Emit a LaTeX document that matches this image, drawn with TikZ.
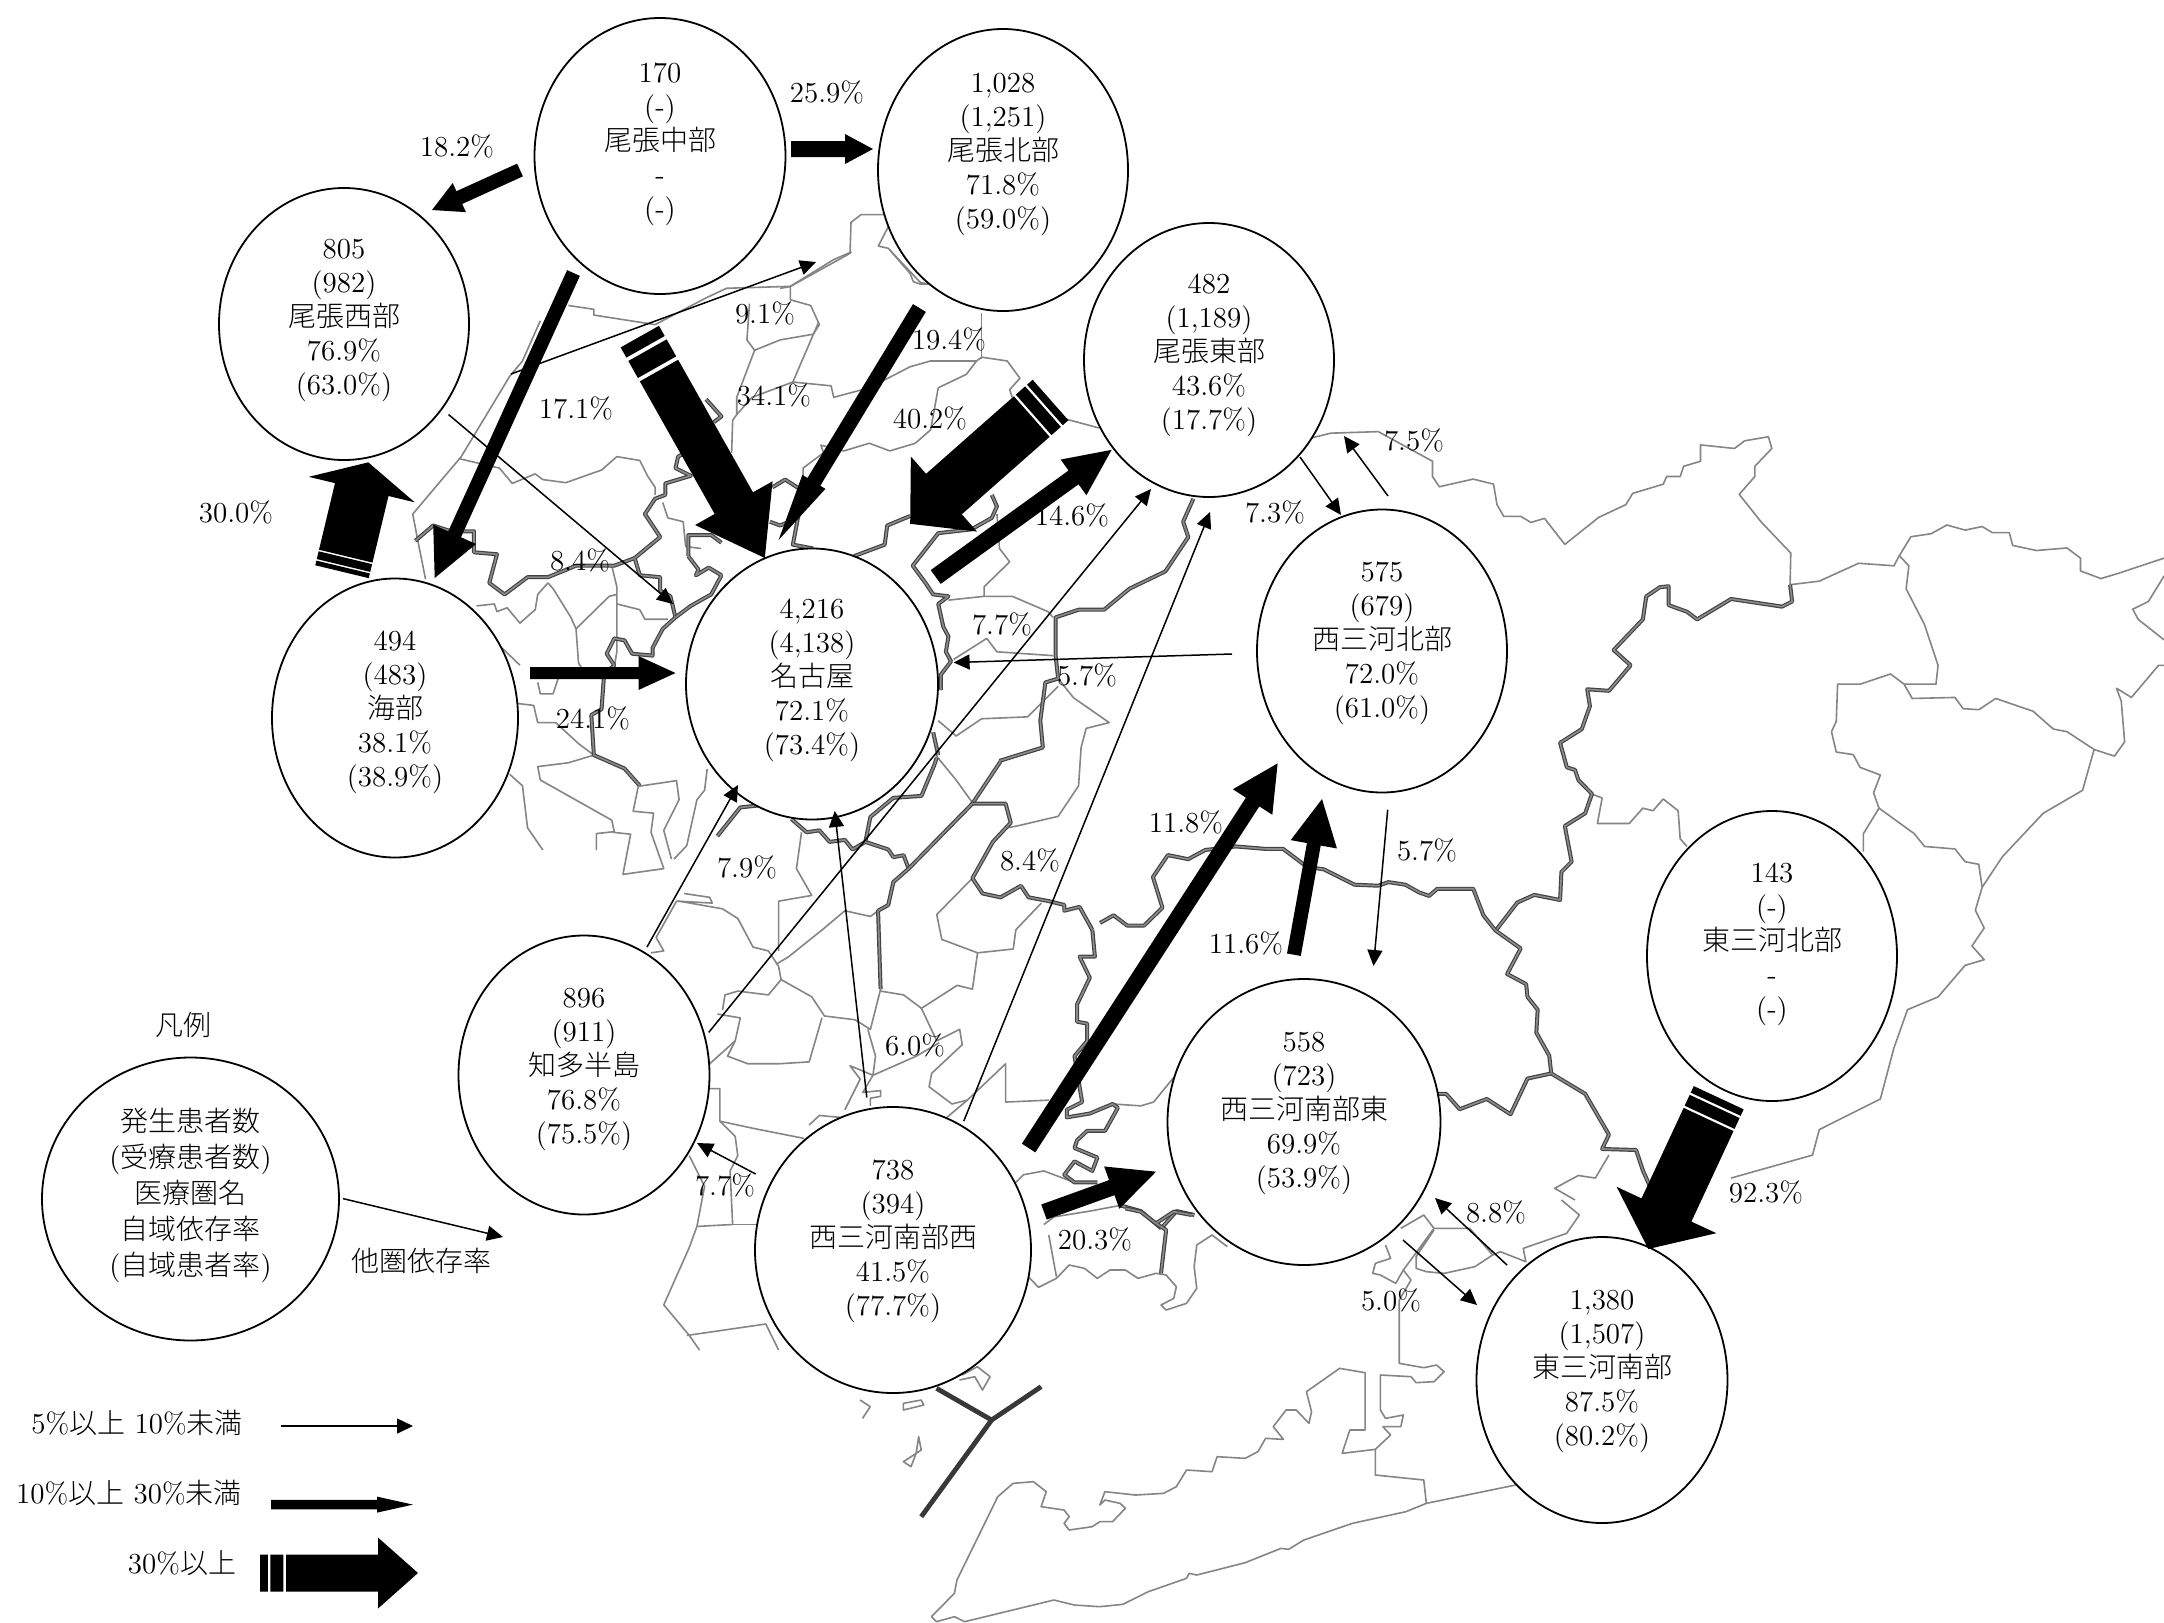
\documentclass[tikz,border=0pt]{standalone}
\usepackage{fontspec}
\usetikzlibrary{arrows.meta,shapes.geometric,calc}
\newfontfamily\jpfam[UprightFont=* Light]{Noto Sans CJK JP}
\newcommand\jp[1]{{\jpfam\fontsize{14}{17}\selectfont #1}}
\newcommand\ltext[2][2.5pt]{\raisebox{#1}[0pt][0pt]{\fontsize{14.5}{17}\selectfont\begin{tabular}[c]{@{}c@{}}#2\end{tabular}}}
\newcommand\measure[2]{%
  \pgfmathanglebetweenpoints{\pgfpointanchor{#1}{center}}{\pgfpointanchor{#2}{center}}\let\fa\pgfmathresult
  \pgfpointdiff{\pgfpointanchor{#1}{center}}{\pgfpointanchor{#2}{center}}\pgfgetlastxy\dxx\dyy
  \pgfmathsetmacro\fl{veclen(\dxx,\dyy)}}
% start, end, shaft width, head width, head length (all in image pixels)
\newcommand\flowarrow[5]{%
  \measure{#1}{#2}%
  \pgfmathsetmacro\hw{#3/4}\pgfmathsetmacro\hW{#4/4}\pgfmathsetmacro\bx{\fl-#5/2}%
  \fill[black,shift={(#1)},rotate=\fa] (0pt,-\hw pt) -- (\bx pt,-\hw pt) -- (\bx pt,-\hW pt) -- (\fl pt,0pt) -- (\bx pt,\hW pt) -- (\bx pt,\hw pt) -- (0pt,\hw pt) -- cycle;}
% same with two bands at the tail; #6 = length of the banded part
\newcommand\bandarrow[6]{%
  \measure{#1}{#2}%
  \pgfmathsetmacro\hw{#3/4}\pgfmathsetmacro\hW{#4/4}\pgfmathsetmacro\bx{\fl-#5/2}%
  \pgfmathsetmacro\ba{#6*.15}\pgfmathsetmacro\bb{#6*.2}\pgfmathsetmacro\bc{#6*.45}\pgfmathsetmacro\bd{#6*.5}%
  \fill[black,shift={(#1)},rotate=\fa] (\bd pt,-\hw pt) -- (\bx pt,-\hw pt) -- (\bx pt,-\hW pt) -- (\fl pt,0pt) -- (\bx pt,\hW pt) -- (\bx pt,\hw pt) -- (\bd pt,\hw pt) -- cycle
    (0pt,-\hw pt) rectangle (\ba pt,\hw pt)
    (\bb pt,-\hw pt) rectangle (\bc pt,\hw pt);}
\tikzset{
  thinmap/.style={draw=black!48,line width=.8pt,line join=round},
  thickmap/.style={draw=black!74,double=black!45,double distance=.8pt,line width=.6pt,line join=round},
  zoneA/.style={shift={(400,250)},x=.2551pt,y=-.19133pt},
  zoneB/.style={shift={(1100,400)},x=.33928pt,y=-.2551pt},
  zoneC/.style={shift={(600,750)},x=.2551pt,y=-.19133pt},
  zoneD/.style={shift={(860,1200)},x=.2551pt,y=-.16667pt},
  zoneE/.style={shift={(780,190)},x=.16667pt,y=-.16667pt},
  area/.style={ellipse,draw=black,fill=white,line width=.9pt,inner sep=0pt},
  pct/.style={inner sep=0pt,font=\fontsize{14.5}{17}\selectfont},
  plain/.style={inner sep=0pt,font=\fontsize{14.5}{17}\selectfont},
  thinflow/.style={draw=black,line width=.75pt,-{Triangle[length=8pt,width=7.5pt]}},
}
\begin{document}
\begin{tikzpicture}[x=.5pt,y=-.5pt]
\useasboundingbox (0,0) rectangle (2164,1623);
\fill[white] (0,0) rectangle (2164,1623);
% ---------- map ----------
\begin{scope}[zoneE]
\draw[thinmap] (0,295)--(30,290)--(210,190)--(213,97)--(243,74)--(320,74);
\draw[thinmap] (325,110)--(295,168)--(325,175)--(390,250)--(400,275)--(420,282)--(450,282);
\end{scope}
\begin{scope}[zoneA]
\draw[thinmap] (885,5)--(850,25)--(765,95)--(640,100)--(600,125)--(500,195)--(380,170)--(380,155)--(330,145);
\draw[thinmap] (765,95)--(765,130)--(805,145)--(822,195)--(810,220)--(745,235)--(695,262)--(680,235)--(685,140);
\draw[thinmap] (275,185)--(240,290)--(215,330)--(120,540)--(25,690)--(35,760)--(50,860);
\draw[thinmap] (115,545)--(195,570)--(220,610)--(265,585)--(280,600)--(325,608)--(395,575)--(425,540)--(470,550)--(485,590)--(500,620)--(500,640);
\draw[thinmap] (695,262)--(660,385)--(660,430)--(652,445)--(650,530);
\draw[thinmap] (660,430)--(690,385)--(770,345)--(845,355)--(850,385)--(920,360)--(1000,305)--(1040,290)--(1130,290)--(1140,280)--(1190,290)--(1215,335)--(1195,365)--(1200,385);
\draw[thinmap] (1130,290)--(1110,325)--(1055,360)--(1040,470)--(1010,505)--(960,525)--(920,505)--(870,525)--(825,510)--(830,530)--(790,570)--(790,600);
\draw[thinmap] (770,345)--(820,190);
\draw[thinmap] (1140,165)--(1140,285);
\draw[thinmap] (960,0)--(1020,85)--(1040,90);
\draw[thinmap] (1300,440)--(1370,465);
\draw[thinmap] (1170,690)--(1175,780)--(1195,815)--(1145,880)--(1145,905)--(1075,915);
\draw[thinmap] (1145,905)--(1200,905)--(1270,945)--(1280,960);
\draw[thinmap] (1085,1070)--(1150,1015)--(1170,1050)--(1280,1060);
\draw[thinmap] (1290,1120)--(1320,1170)--(1390,1235)--(1345,1250)--(1335,1300)--(1330,1400)--(1290,1480)--(1210,1505)--(1190,1510);
\draw[thinmap] (1055,1230)--(1090,1270)--(1140,1225)--(1230,1220)--(1290,1140);
\draw[thinmap] (1050,1320)--(1090,1385)--(1125,1450);
\draw[thinmap] (415,825)--(425,880)--(425,925)--(425,1050)--(420,1090);
\draw[thinmap] (290,870)--(270,900)--(265,940)--(235,975)--(210,935)--(190,945)--(185,925)--(150,930);
\draw[thinmap] (290,870)--(300,885)--(335,960)--(345,990)--(350,1080)--(355,1090);
\draw[thinmap] (345,990)--(410,905)--(425,900);
\draw[thinmap] (425,925)--(470,940)--(480,965)--(525,965);
\draw[thinmap] (200,1040)--(235,1085);
\draw[thinmap] (230,1185)--(262,1190)--(270,1235)--(305,1235)--(350,1290)--(380,1320)--(330,1340)--(270,1350)--(275,1385)--(415,1490)--(420,1520)--(385,1525)--(385,1568);
\draw[thinmap] (270,1130)--(275,1160)--(300,1160)--(310,1120);
\draw[thinmap] (215,1370)--(240,1400)--(250,1510)--(280,1568);
\draw[thinmap] (515,660)--(525,700)--(555,710)--(560,775)--(590,780);
\draw[thickmap] (30,760)--(65,720)--(100,735)--(145,735)--(145,790)--(190,795)--(175,870)--(205,900)--(250,855)--(290,855)--(345,825)--(420,825)--(460,805)--(470,850)--(510,855)--(510,890)--(530,905)--(540,960)--(515,990)--(495,1040)--(495,1060)--(455,1055)--(440,1020)--(420,1015)--(405,1055)--(420,1085)--(400,1110)--(395,1200)--(375,1215)--(380,1320)--(440,1355)--(470,1400);
\draw[thickmap] (460,805)--(510,750)--(480,690)--(500,650)--(520,640)--(520,610)--(570,590)--(540,570)--(545,540)--(600,500);
\draw[thickmap] (600,390)--(630,435)--(615,450);
\draw[thickmap] (565,800)--(565,745)--(610,745)--(630,765);
\draw[thickmap] (565,800)--(585,835)--(580,850)--(605,830)--(630,850)--(610,900)--(570,930)--(540,960);
\draw[thickmap] (730,620)--(755,600)--(790,630)--(780,700)--(770,770)--(810,780);
\draw[thickmap] (725,710)--(745,720)--(780,700);
\draw[thickmap] (890,800)--(950,770)--(955,720)--(1000,695);
\draw[thickmap] (1160,640)--(1170,670)--(1160,700)--(1120,730)--(1055,740)--(1005,825)--(1030,870)--(1045,900)--(1075,905)--(1055,925)--(1065,985)--(1075,1010)--(1070,1050)--(1080,1075)--(1060,1110)--(1060,1150);
\draw[thickmap] (1555,650)--(1535,710)--(1545,750)--(1500,840)--(1430,885)--(1380,940)--(1330,940)--(1285,960)--(1285,1060)--(1290,1120)--(1265,1130)--(1255,1230)--(1260,1300)--(1175,1335);
\draw[thickmap] (1045,1260)--(1055,1320);
\end{scope}
\begin{scope}[zoneB]
\draw[thinmap] (310,75)--(340,65)--(410,62)--(490,120)--(490,150)--(500,170)--(550,155)--(580,165)--(585,205)--(595,228)--(620,228)--(635,240)--(655,232)--(685,283)--(735,230)--(775,205)--(785,183)--(830,165)--(835,150)--(855,150)--(860,130)--(885,120)--(885,88)--(935,95)--(950,80)--(985,72)--(990,95)--(965,130)--(965,150)--(942,185)--(975,240)--(1018,300)--(1017,362)--(1060,355)--(1118,320)--(1170,325)--(1178,305)--(1195,268)--(1225,262)--(1248,245)--(1275,255)--(1300,248)--(1315,260)--(1340,260)--(1345,285)--(1380,295)--(1425,290)--(1445,310)--(1445,335)--(1475,350)--(1500,340)--(1568,310);
\draw[thinmap] (1178,305)--(1192,325)--(1188,370)--(1215,440)--(1235,520)--(1232,557)--(1185,557)--(1165,537)--(1120,557)--(1087,557)--(1085,630)--(1078,650)--(1085,690)--(1110,695)--(1120,720)--(1150,735)--(1140,770)--(1148,800)--(1200,850)--(1215,875)--(1260,880)--(1275,905)--(1295,910)--(1300,955);
\draw[thinmap] (1185,557)--(1197,585)--(1260,583)--(1272,605)--(1295,607)--(1320,585)--(1375,610)--(1405,645)--(1425,650)--(1465,685)--(1448,765)--(1390,810)--(1330,895)--(1300,955)--(1290,1000)--(1303,1035)--(1285,1070)--(1303,1097)--(1275,1108)--(1235,1170)--(1190,1195)--(1170,1270)--(1150,1370)--(1060,1430)--(1050,1480)--(930,1525);
\draw[thinmap] (1465,685)--(1495,698)--(1510,670)--(1505,590)--(1498,565)--(1520,583)--(1560,520)--(1568,520);
\draw[thinmap] (1568,345)--(1545,395)--(1522,410)--(1530,430)--(1568,470);
\draw[thinmap] (1148,800)--(1125,850)--(1125,885);
\draw[thinmap] (720,770)--(740,780)--(733,830)--(780,830)--(800,800)--(815,805)--(830,782)--(852,805)--(855,860)--(865,875);
\draw[thinmap] (750,1480)--(730,1525)--(705,1520)--(670,1545)--(700,1568);
\draw[thickmap] (1017,362)--(1020,395)--(1005,405)--(930,390)--(880,430)--(865,415)--(838,402)--(838,365)--(825,367)--(805,385)--(800,430)--(757,490)--(782,520)--(750,570)--(718,567)--(722,600)--(710,645)--(678,672)--(688,720)--(700,725)--(705,745)--(725,772)--(715,810)--(685,835)--(695,905)--(680,925)--(678,980)--(640,970)--(615,985)--(583,1040)--(620,1075)--(600,1125)--(628,1145)--(630,1170)--(645,1195)--(643,1240)--(662,1285)--(665,1320)--(715,1360)--(750,1440)--(740,1468)--(790,1470)--(800,1510)--(810,1540);
\draw[thickmap] (583,1040)--(565,1010)--(550,958)--(497,958)--(485,972)--(470,965)--(450,950)--(425,945)--(410,952)--(375,950)--(330,920)--(305,915)--(270,880)--(245,880)--(200,875)--(155,882)--(130,900)--(100,892)--(78,935)--(92,995)--(65,1030)--(40,1030)--(20,1010)--(0,1025);
\draw[thickmap] (665,1320)--(630,1330)--(605,1400)--(570,1370)--(530,1390)--(510,1360)--(497,1360);
\end{scope}
\begin{scope}[zoneC]
\draw[thinmap] (75,95)--(150,80)--(155,130)--(125,210)--(140,285);
\draw[thinmap] (25,215)--(60,220)--(45,325)--(125,310)--(100,215)--(105,165)--(65,160)--(75,95);
\draw[thinmap] (210,50)--(205,105)--(190,130)--(170,250)--(145,285);
\draw[thinmap] (165,375)--(215,385)--(220,400)--(150,395)--(110,490)--(125,525)--(100,530);
\draw[thinmap] (155,395)--(240,415)--(270,440)--(300,515)--(330,525)--(350,565)--(355,600)--(330,640)--(270,630)--(245,640)--(240,680);
\draw[thinmap] (230,690)--(275,700)--(265,760)--(215,820);
\draw[thinmap] (355,600)--(415,645)--(440,695)--(500,705)--(530,730)--(550,625);
\draw[thinmap] (345,560)--(370,540)--(440,465)--(480,420)--(530,435)--(545,420);
\draw[thinmap] (350,525)--(350,395)--(415,380)--(385,310)--(395,215);
\draw[thinmap] (435,700)--(410,815)--(350,820)--(290,820)--(250,800)--(265,760);
\draw[thinmap] (525,730)--(540,800)--(535,850)--(620,800)--(665,765);
\draw[thinmap] (630,675)--(660,760)--(705,730)--(710,770)--(650,845)--(645,880)--(690,925)--(720,915);
\draw[thinmap] (550,630)--(595,640)--(630,675)--(700,615)--(730,625)--(740,530)--(810,520)--(815,470)--(865,400);
\draw[thinmap] (740,530)--(670,495)--(660,430)--(730,335);
\draw[thinmap] (535,850)--(515,895)--(550,890)--(550,905)--(530,910)--(530,930);
\draw[thinmap] (535,850)--(490,825)--(510,860)--(480,940);
\draw[thinmap] (410,980)--(430,955)--(470,960);
\draw[thinmap] (680,960)--(720,915)--(795,820)--(795,920)--(880,915);
\draw[thinmap] (1005,925)--(1060,930)--(1085,920)--(1125,855);
\draw[thinmap] (215,885)--(235,885)--(235,970)--(265,1010)--(270,1060)--(255,1100)--(260,1240)--(190,1245)--(175,1300)--(125,1450)--(175,1530)--(195,1568);
\draw[thinmap] (235,970)--(305,990)--(400,1015);
\draw[thinmap] (175,1060)--(205,1140)--(190,1245);
\draw[thinmap] (260,1240)--(310,1240);
\draw[thinmap] (170,1530)--(325,1500)--(350,1568);
\draw[thinmap] (815,1130)--(830,1110)--(870,1100)--(900,1115)--(930,1130);
\draw[thinmap] (870,1240)--(890,1220)--(960,1205)--(1020,1190);
\draw[thickmap] (230,225)--(275,150)--(310,145);
\draw[thickmap] (375,180)--(405,215)--(430,210)--(450,240)--(480,235)--(495,260)--(520,240)--(565,260)--(575,280)--(595,275)--(605,310);
\draw[thickmap] (660,20)--(655,40)--(630,120)--(575,125)--(530,175)--(520,240);
\draw[thickmap] (785,30)--(730,140)--(605,310)--(575,345)--(565,405)--(545,420)--(550,625);
\draw[thickmap] (730,140)--(795,140)--(805,190)--(770,240)--(730,335)--(750,375)--(785,385)--(825,355)--(840,385)--(880,395)--(910,405)--(910,420)--(940,410)--(965,470);
\draw[thickmap] (965,470)--(970,540)--(940,540)--(960,595)--(935,665)--(935,710)--(955,715)--(955,760)--(930,800)--(945,920)--(915,940)--(915,960)--(960,950)--(1005,925)--(1015,935)--(990,995)--(955,995)--(935,1020)--(930,1040)--(975,1065)--(965,1100)--(930,1075)--(910,1110)--(930,1130)--(975,1130);
\draw[thickmap] (1020,1190)--(1060,1205)--(1100,1250);
\draw[thickmap] (1100,1250)--(1130,1205)--(1165,1215);
\end{scope}
\begin{scope}[zoneD]
\draw[thinmap] (330,230)--(350,262)--(385,235)--(410,195)--(440,205)--(465,235)--(490,210)--(520,210)--(545,235)--(580,220)--(600,225)--(620,260)--(615,295)--(590,315)--(600,330)--(640,310)--(660,265)--(655,200)--(660,135)--(690,105)--(720,140);
\draw[thinmap] (370,105)--(385,230);
\draw[thinmap] (85,610)--(120,600)--(125,615)--(85,630)--cycle;
\draw[thinmap] (115,710)--(120,750)--(100,770)--(85,785)--(100,800)--(110,760)--cycle;
\draw[thinmap] (0,600)--(20,620)--(5,655);
\draw[thinmap] (200,525)--(230,500)--(255,530)--(240,570)--(225,530)--(195,540);
\draw[thinmap] (140,1250)--(185,1180)--(190,1140)--(270,890)--(300,850)--(340,845)--(365,875)--(355,920)--(400,930)--(410,950)--(400,970)--(410,990)--(455,980)--(470,965)--(495,965)--(520,925)--(510,910)--(480,900)--(470,915)--(480,875)--(540,885)--(595,880)--(620,860)--(640,810)--(690,815)--(700,770)--(755,775)--(780,755)--(795,715)--(830,718)--(810,680)--(835,630)--(855,630)--(880,670)--(885,635)--(875,575)--(940,505)--(990,518)--(990,690)--(960,690)--(945,760)--(1010,748)--(1040,705)--(1025,680)--(1060,680)--(1065,645)--(1030,655)--(1020,630)--(1020,525)--(1080,530)--(1090,548)--(1125,545)--(1145,515)--(1130,495)--(1105,503)--(1057,490)--(1057,300)--(1080,240)--(1065,210)--(1125,85)--(1195,85)--(1240,165)--(1205,200)--(1145,220)--(1110,215)--(1090,205)--(1090,170)--(1125,90);
\draw[thinmap] (1065,210)--(1050,250)--(1020,225)--(1005,220)--(1010,190)--(1040,175)--(1030,135);
\draw[thinmap] (1060,85)--(1105,45)--(1125,85);
\draw[thinmap] (1240,165)--(1255,155)--(1305,185)--(1300,145)--(1385,100)--(1410,45)--(1375,0);
\draw[thinmap] (140,1250)--(150,1265)--(185,1250)--(205,1265)--(380,1200)--(420,1215)--(470,1220)--(515,1213)--(565,1175)--(640,1135)--(645,1120)--(660,1125)--(755,1088)--(825,1045)--(840,1048)--(870,1020)--(965,970)--(1070,935)--(1110,910)--(1285,855);
\draw[thinmap] (1110,910)--(1105,840)--(1010,825)--(1010,748);
\draw[thickmap] (590,220)--(600,90)--(580,70)--(615,35)--(650,45);
\draw[thickmap] (580,70)--(550,35)--(520,25);
\draw[draw=black!78,line width=2.4pt] (150,565)--(258,660)--(355,560);
\draw[draw=black!78,line width=2.4pt] (258,660)--(120,950);
\end{scope}
% ---------- areas ----------
\node[area,minimum width=125.5pt,minimum height=138pt] (chubu) at (660,156) {\ltext{170\\(-)\\\jp{尾張中部}\\-\\(-)}};
\node[area,minimum width=125pt,minimum height=141pt] (hokubu) at (1003,170) {\ltext[4.6pt]{1,028\\(1,251)\\\jp{尾張北部}\\71.8\%\\(59.0\%)}};
\node[area,minimum width=125pt,minimum height=136pt] (seibu) at (344,324) {\ltext[-1.6pt]{805\\(982)\\\jp{尾張西部}\\76.9\%\\(63.0\%)}};
\node[area,minimum width=125pt,minimum height=137pt] (tobu) at (1209,360) {\ltext[-.9pt]{482\\(1,189)\\\jp{尾張東部}\\43.6\%\\(17.7\%)}};
\node[area,minimum width=126pt,minimum height=135.5pt] (nagoya) at (812,684) {\ltext[-1.6pt]{4,216\\(4,138)\\\jp{名古屋}\\72.1\%\\(73.4\%)}};
\node[area,minimum width=125pt,minimum height=141.5pt] (nishihoku) at (1382,651) {\ltext[.4pt]{575\\(679)\\\jp{西三河北部}\\72.0\%\\(61.0\%)}};
\node[area,minimum width=123pt,minimum height=139.5pt] (ama) at (395,718) {\ltext[-.3pt]{494\\(483)\\\jp{海部}\\38.1\%\\(38.9\%)}};
\node[area,minimum width=125.5pt,minimum height=139.5pt] (chita) at (584,1075) {\ltext[-.3pt]{896\\(911)\\\jp{知多半島}\\76.8\%\\(75.5\%)}};
\node[area,minimum width=138pt,minimum height=143pt] (nannansei) at (893,1250) {\ltext[1.1pt]{738\\(394)\\\jp{西三河南部西}\\41.5\%\\(77.7\%)}};
\node[area,minimum width=136.5pt,minimum height=143pt] (nannanto) at (1304,1122) {\ltext[1.1pt]{558\\(723)\\\jp{西三河南部東}\\69.9\%\\(53.9\%)}};
\node[area,minimum width=125pt,minimum height=145pt] (higashihoku) at (1772,956) {\ltext{143\\(-)\\\jp{東三河北部}\\-\\(-)}};
\node[area,minimum width=125.5pt,minimum height=143pt] (higashinan) at (1602,1380) {\ltext[1.1pt]{1,380\\(1,507)\\\jp{東三河南部}\\87.5\%\\(80.2\%)}};
\node[area,minimum width=148.5pt,minimum height=141.5pt] (legend) at (190.5,1199) {\ltext[-2.6pt]{\jp{発生患者数}\\[1pt](\jp{受療患者数})\\[1pt]\jp{医療圏名}\\[1pt]\jp{自域依存率}\\[1pt](\jp{自域患者率})}};
% ---------- flows: named ends ----------
\coordinate (a1s) at (520,170); \coordinate (a1e) at (432,210);
\coordinate (a2s) at (791,149); \coordinate (a2e) at (873,149);
\coordinate (a3s) at (573.5,273); \coordinate (a3e) at (434.7,578);
\coordinate (a4s) at (511,374); \coordinate (a4e) at (816,262);
\coordinate (a5s) at (448.5,414.5); \coordinate (a5e) at (673,604);
\coordinate (a6s) at (919.4,308); \coordinate (a6e) at (778.6,540);
\coordinate (a7s) at (639.8,336.6); \coordinate (a7e) at (764.8,558);
\coordinate (a8s) at (1050.5,400); \coordinate (a8e) at (910,524);
\coordinate (a9s) at (935.7,577); \coordinate (a9e) at (1111.7,449.8);
\coordinate (a10s) at (530,673); \coordinate (a10e) at (675.5,673);
\coordinate (a11s) at (342,571.7); \coordinate (a11e) at (368.3,462.3);
\coordinate (a12s) at (1232,654); \coordinate (a12e) at (953.6,662.5);
\coordinate (a13s) at (1388,496); \coordinate (a13e) at (1344,436);
\coordinate (a14s) at (1300,457); \coordinate (a14e) at (1341,515);
\coordinate (a15s) at (647,947); \coordinate (a15e) at (738,785);
\coordinate (a16s) at (708.7,1032.4); \coordinate (a16e) at (1151,489);
\coordinate (a17s) at (963.8,1121); \coordinate (a17e) at (1210,512);
\coordinate (a18s) at (866.8,1097.5); \coordinate (a18e) at (834.7,811);
\coordinate (a19s) at (755.6,1174); \coordinate (a19e) at (697,1143);
\coordinate (a20s) at (1028.6,1148); \coordinate (a20e) at (1277.6,763.4);
\coordinate (a21s) at (1293.9,954.7); \coordinate (a21e) at (1322,799);
\coordinate (a22s) at (1387.7,809.7); \coordinate (a22e) at (1373.5,966);
\coordinate (a23s) at (1044,1212); \coordinate (a23e) at (1156,1171.7);
\coordinate (a24s) at (1507,1265); \coordinate (a24e) at (1435,1198);
\coordinate (a25s) at (1403,1240); \coordinate (a25e) at (1477,1305);
\coordinate (a26s) at (1718.7,1097.7); \coordinate (a26e) at (1648.3,1249);
\coordinate (k0s) at (343,1198.6); \coordinate (k0e) at (503,1237);
\coordinate (k1s) at (280.5,1426); \coordinate (k1e) at (413,1426);
\coordinate (k2s) at (271,1504.6); \coordinate (k2e) at (413,1504.6);
\coordinate (k3s) at (260,1573); \coordinate (k3e) at (418,1573);
% ---------- flows ----------
\foreach \n in {4,5,12,13,14,15,16,17,18,19,22,24,25}{\draw[thinflow] (a\n s) -- (a\n e);}
\draw[thinflow] (k0s) -- (k0e);
\draw[thinflow] (k1s) -- (k1e);
\flowarrow{a1s}{a1e}{14}{32}{30}
\flowarrow{a2s}{a2e}{16}{30}{28}
\flowarrow{a3s}{a3e}{14}{47}{48}
\flowarrow{a6s}{a6e}{15}{27}{68}
\flowarrow{a9s}{a9e}{17}{44}{47}
\flowarrow{a10s}{a10e}{12}{34}{37}
\flowarrow{a20s}{a20e}{16}{47}{46}
\flowarrow{a21s}{a21e}{14}{47}{46}
\flowarrow{a23s}{a23e}{16}{45}{47}
\flowarrow{k2s}{k2e}{9.5}{16}{36}
\bandarrow{a7s}{a7e}{44}{89}{63}{39}
\bandarrow{a8s}{a8e}{54}{100}{45}{25}
\bandarrow{a11s}{a11e}{55}{109}{28}{16}
\bandarrow{a26s}{a26e}{55}{110}{43}{24}
\bandarrow{k3s}{k3e}{37}{71}{40}{26}
% ---------- percentages ----------
\node[pct] (p1) at (827,92) {25.9\%};
\node[pct] (p2) at (457,146) {18.2\%};
\node[pct] (p3) at (765,313) {9.1\%};
\node[pct] (p4) at (774,395) {34.1\%};
\node[pct] (p5) at (949,339) {19.4\%};
\node[pct] (p6) at (576,408) {17.1\%};
\node[pct] (p7) at (930,418) {40.2\%};
\node[pct] (p8) at (236,512) {30.0\%};
\node[pct] (p9) at (1072,515) {14.6\%};
\node[pct] (p10) at (1275,512) {7.3\%};
\node[pct] (p11) at (1414,440) {7.5\%};
\node[pct] (p12) at (580,560) {8.4\%};
\node[pct] (p13) at (1002,624) {7.7\%};
\node[pct] (p14) at (1087,675) {5.7\%};
\node[pct] (p15) at (593,718) {24.1\%};
\node[pct] (p16) at (747,867) {7.9\%};
\node[pct] (p17) at (1030,860) {8.4\%};
\node[pct] (p18) at (1186,822) {11.8\%};
\node[pct] (p19) at (1427,850) {5.7\%};
\node[pct] (p20) at (1246,943) {11.6\%};
\node[pct] (p21) at (915,1045) {6.0\%};
\node[pct] (p22) at (725,1185) {7.7\%};
\node[pct] (p23) at (1496,1212) {8.8\%};
\node[pct] (p24) at (1095,1239) {20.3\%};
\node[pct] (p25) at (1391,1300) {5.0\%};
\node[pct] (p26) at (1766,1192) {92.3\%};
% ---------- legend ----------
\node[plain] (t1) at (183,1024.6) {\jp{凡例}};
\node[plain] (t2) at (421,1261) {\jp{他圏依存率}};
\node[plain] (t3) at (137,1423) {5\%\jp{以上} 10\%\jp{未満}};
\node[plain] (t4) at (129,1492.6) {10\%\jp{以上} 30\%\jp{未満}};
\node[plain] (t5) at (182,1563) {30\%\jp{以上}};
\end{tikzpicture}
\end{document}
